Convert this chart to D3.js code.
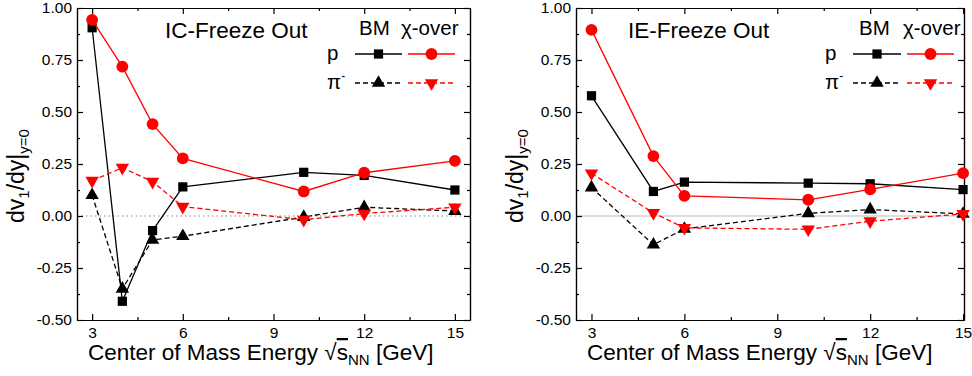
<!DOCTYPE html>
<html>
<head>
<meta charset="utf-8">
<script src="https://cdn.jsdelivr.net/npm/d3@7"></script>
<style>
  body { margin: 0; background: #fff; }
  svg { display: block; font-family: "Liberation Sans", Arial, sans-serif; }
  .axis path, .axis line { stroke: #000; stroke-width: 1.2; }
  .axis text { font-size: 15.5px; fill: #000; font-family: "Liberation Sans", Arial, sans-serif; }
</style>
</head>
<body>
<svg id="chart" width="972" height="376"></svg>
<script>
// collision energies (GeV)
const icEnergies = [3, 4, 5, 6, 10, 12, 15]
const ieEnergies = [3, 5, 6, 10, 12, 15]

// IC-Freeze Out
const icProtonBM = [0.905, -0.41, -0.07, 0.14, 0.21, 0.195, 0.125]
const icProtonX = [0.943, 0.718, 0.442, 0.277, 0.118, 0.208, 0.265]
const icPionBM = [0.10, -0.35, -0.115, -0.097, -0.005, 0.042, 0.024]
const icPionX = [0.17, 0.232, 0.165, 0.045, -0.018, 0.012, 0.042]

// IE-Freeze Out
const ieProtonBM = [0.578, 0.118, 0.163, 0.158, 0.155, 0.127]
const ieProtonX = [0.895, 0.288, 0.097, 0.078, 0.128, 0.206]
const iePionBM = [0.137, -0.138, -0.062, 0.013, 0.031, 0.01]
const iePionX = [0.205, 0.015, -0.057, -0.064, -0.025, 0.01]

const xMajor = [3, 6, 9, 12, 15]
const xMinor = [4.5, 7.5, 10.5, 13.5]
const yMajor = [-0.5, -0.25, 0, 0.25, 0.5, 0.75, 1.0]
const yMinor = [-0.375, -0.125, 0.125, 0.375, 0.625, 0.875]

const RED = '#ff0000'
const svg = d3.select('#chart')

const panels = [
    {
        title: 'IC-Freeze Out', left: 77, right: 470, xDomain: [2.5, 15.5], zeroDotted: true,
        energies: icEnergies,
        series: [icProtonBM, icPionBM, icProtonX, icPionX],
        titleX: 165, legend: { p: 327, bm: 359, x: 401, lineA: [355, 402], lineB: [408, 455] },
    },
    {
        title: 'IE-Freeze Out', left: 576, right: 964, xDomain: [2.5, 15.03], zeroDotted: false,
        energies: ieEnergies,
        series: [ieProtonBM, iePionBM, ieProtonX, iePionX],
        titleX: 628, legend: { p: 825, bm: 859, x: 903, lineA: [853, 901], lineB: [907, 954] },
    },
]

const TOP = 8
const BOTTOM = 320

// style per series: BM proton, BM pion, crossover proton, crossover pion
const styles = [
    { color: '#000', dash: null, symbol: d3.symbolSquare, size: 85, rotate: 0 },
    { color: '#000', dash: '5,3', symbol: d3.symbolTriangle, size: 78, rotate: 0 },
    { color: RED, dash: null, symbol: d3.symbolCircle, size: 110, rotate: 0 },
    { color: RED, dash: '5,3', symbol: d3.symbolTriangle, size: 78, rotate: 180 },
]

function marker(g, st, x, y) {
    g.append('path')
        .attr('d', d3.symbol().type(st.symbol).size(st.size)())
        .attr('transform', `translate(${x},${y}) rotate(${st.rotate})`)
        .attr('fill', st.color)
}

panels.forEach(p => {
    const x = d3.scaleLinear().domain(p.xDomain).range([p.left, p.right])
    const y = d3.scaleLinear().domain([-0.5, 1.0]).range([BOTTOM, TOP])
    const g = svg.append('g')

    // zero line
    g.append('line')
        .attr('x1', p.left).attr('x2', p.right)
        .attr('y1', y(0)).attr('y2', y(0))
        .attr('stroke', p.zeroDotted ? '#888' : '#bbb')
        .attr('stroke-width', 1.2)
        .attr('stroke-dasharray', p.zeroDotted ? '1.5,3' : null)

    // axes, ticks pointing inward
    const fmt = d => d.toFixed(2)
    g.append('g').attr('class', 'axis').attr('transform', `translate(0,${BOTTOM})`)
        .call(d3.axisBottom(x).tickValues(xMajor).tickSize(-6).tickPadding(7).tickSizeOuter(0))
    g.append('g').attr('class', 'axis').attr('transform', `translate(0,${BOTTOM})`)
        .call(d3.axisBottom(x).tickValues(xMinor).tickSize(-3).tickFormat('').tickSizeOuter(0))
    g.append('g').attr('class', 'axis').attr('transform', `translate(0,${TOP})`)
        .call(d3.axisTop(x).tickValues(xMajor).tickSize(-6).tickFormat('').tickSizeOuter(0))
    g.append('g').attr('class', 'axis').attr('transform', `translate(0,${TOP})`)
        .call(d3.axisTop(x).tickValues(xMinor).tickSize(-3).tickFormat('').tickSizeOuter(0))
    g.append('g').attr('class', 'axis').attr('transform', `translate(${p.left},0)`)
        .call(d3.axisLeft(y).tickValues(yMajor).tickSize(-6).tickPadding(5).tickFormat(fmt).tickSizeOuter(0))
    g.append('g').attr('class', 'axis').attr('transform', `translate(${p.left},0)`)
        .call(d3.axisLeft(y).tickValues(yMinor).tickSize(-3).tickFormat('').tickSizeOuter(0))
    g.append('g').attr('class', 'axis').attr('transform', `translate(${p.right},0)`)
        .call(d3.axisRight(y).tickValues(yMajor).tickSize(-6).tickFormat('').tickSizeOuter(0))
    g.append('g').attr('class', 'axis').attr('transform', `translate(${p.right},0)`)
        .call(d3.axisRight(y).tickValues(yMinor).tickSize(-3).tickFormat('').tickSizeOuter(0))

    // series
    const line = d3.line().x(d => x(d[0])).y(d => y(d[1]))
    p.series.forEach((vals, i) => {
        const st = styles[i]
        const pts = p.energies.map((e, k) => [e, vals[k]])
        g.append('path').datum(pts)
            .attr('d', line)
            .attr('fill', 'none')
            .attr('stroke', st.color)
            .attr('stroke-width', 1.3)
            .attr('stroke-dasharray', st.dash)
        pts.forEach(d => marker(g, st, x(d[0]), y(d[1])))
    })

    // title
    g.append('text').attr('x', p.titleX).attr('y', 38)
        .attr('font-size', 22.5).text(p.title)

    // legend
    const L = p.legend
    g.append('text').attr('x', L.bm).attr('y', 35).attr('font-size', 20.5).text('BM')
    g.append('text').attr('x', L.x).attr('y', 35).attr('font-size', 20.5).text('χ-over')
    g.append('text').attr('x', L.p).attr('y', 60).attr('font-size', 20.5).text('p')
    const pi = g.append('text').attr('x', L.p).attr('y', 89).attr('font-size', 20.5)
    pi.append('tspan').text('π')
    pi.append('tspan').attr('font-size', 12).attr('dy', -9).text('-')

    const rows = [[0, 2, 54], [1, 3, 83]]
    rows.forEach(([a, b, ry]) => {
        [[a, L.lineA], [b, L.lineB]].forEach(([si, span]) => {
            const st = styles[si]
            g.append('line')
                .attr('x1', span[0]).attr('x2', span[1]).attr('y1', ry).attr('y2', ry)
                .attr('stroke', st.color).attr('stroke-width', 1.3)
                .attr('stroke-dasharray', st.dash)
            marker(g, st, (span[0] + span[1]) / 2, ry)
        })
    })

    // y-axis title
    const yt = g.append('text')
        .attr('transform', `translate(${p.left - 53},176) rotate(-90)`)
        .attr('text-anchor', 'middle')
        .attr('font-size', 23)
    yt.append('tspan').text('dv')
    yt.append('tspan').attr('font-size', 15).attr('dy', 5).text('1')
    yt.append('tspan').attr('dy', -5).text('/dy|')
    yt.append('tspan').attr('font-size', 15).attr('dy', 5).text('y=0')

    // x-axis title
    const xt = g.append('text')
        .attr('x', p.left + 11).attr('y', 360)
        .attr('font-size', 22.5)
    xt.append('tspan').text('Center of Mass Energy √')
    xt.append('tspan').attr('text-decoration', 'overline').text('s')
    xt.append('tspan').attr('font-size', 15).attr('dy', 5).text('NN')
    xt.append('tspan').attr('dy', -5).text(' [GeV]')
})
</script>
</body>
</html>
